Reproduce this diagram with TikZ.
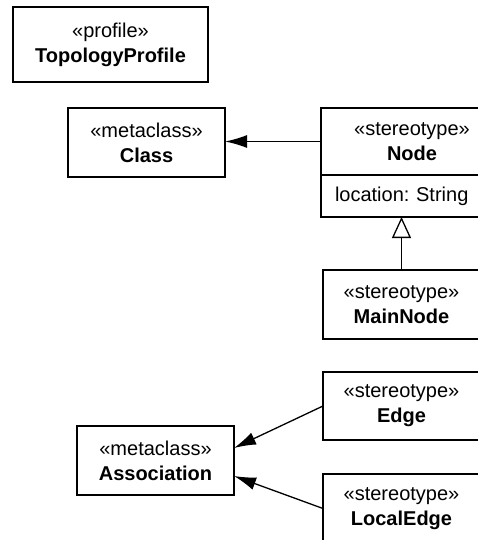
\documentclass[tikz,border=0pt]{standalone}
\usepackage{fontspec}
\setmainfont{Liberation Sans}
\usetikzlibrary{arrows.meta,positioning}
\frenchspacing

\begin{document}
\begin{tikzpicture}[
            x=1pt,y=-1pt,
            font=\fontsize{20}{25}\selectfont,
            uml/.style={draw,rectangle,line width=1.3pt,align=center,anchor=north west,
              minimum width=157pt,minimum height=69pt,inner sep=0pt,outer sep=0pt},
            attr/.style={draw,rectangle,line width=1.3pt,align=left,text width=154pt,
              inner xsep=14pt,inner ysep=0pt,minimum height=42pt,outer sep=0pt},
            ext/.style={draw,line width=1.3pt,-{Latex[length=22pt,width=13pt]}},
            gen/.style={draw,line width=1.3pt,-{Triangle[open,length=21pt,width=19pt]}}
          ]
          \useasboundingbox (0,0) rectangle (477,540);

          %profile
          \node[uml,minimum width=195pt,minimum height=75pt] (profile) at (13,7) {«profile»\\\textbf{TopologyProfile}};

          %metaclasses
          \node[uml] (class) at (68,108) {«metaclass»\\\textbf{Class}};
          \node[uml] (association) at (77,426) {«metaclass»\\\textbf{Association}};

          %stereotypes
          \node[uml,minimum width=182pt,minimum height=67pt] (stNode) at (321,108) {«stereotype»\\\textbf{Node}};
          \node[attr,below=0pt of stNode.south west,anchor=north west] (stAttr) {location: String};
          \node[uml] (mainNode) at (323,270) {«stereotype»\\\textbf{MainNode}};
          \node[uml,minimum height=68pt] (edge) at (323,372) {«stereotype»\\\textbf{Edge}};
          \node[uml] (localEdge) at (323,474) {«stereotype»\\\textbf{LocalEdge}};

          %extensions
          \path[ext] (stNode.west) -- (stNode.west -| class.east);
          \path[ext] (edge.west) -- ([yshift=12.5pt]association.east);
          \path[ext] (localEdge.west) -- ([yshift=-15.5pt]association.east);

          %generalization
          \path[gen] (mainNode.north) -- (mainNode.north |- stAttr.south);

      \end{tikzpicture}
\end{document}
